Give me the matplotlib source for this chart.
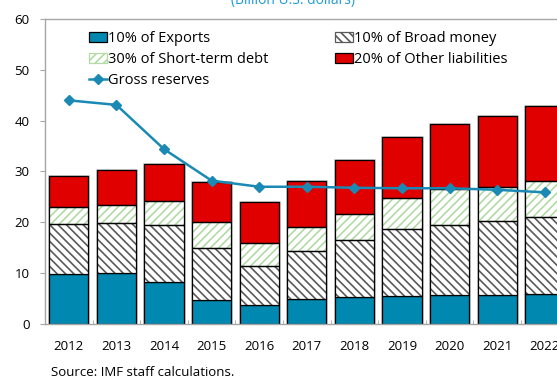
import numpy as np
import matplotlib
matplotlib.use("Agg")
import matplotlib.pyplot as plt
from matplotlib.patches import Patch
from matplotlib.lines import Line2D

plt.rcParams['font.family'] = ['Open Sans', 'DejaVu Sans']
plt.rcParams['font.size'] = 9

years = ["2012", "2013", "2014", "2015", "2016", "2017",
         "2018", "2019", "2020", "2021", "2022"]
exports = [9.8, 10.0, 8.3, 4.7, 3.7, 5.0, 5.4, 5.6, 5.7, 5.8, 6.0]
broad_money = [9.8, 9.8, 11.1, 10.3, 7.8, 9.3, 11.1, 13.1, 13.7, 14.4, 15.1]
short_term = [3.5, 3.7, 4.7, 5.0, 4.4, 4.7, 5.1, 6.1, 7.1, 6.7, 7.1]
other_liab = [6.0, 6.7, 7.3, 7.9, 8.1, 9.1, 10.6, 12.0, 12.8, 14.0, 14.6]
reserves = [44.0, 43.1, 34.4, 28.2, 27.0, 27.0, 26.8, 26.7, 26.7, 26.4, 25.9]

c_exp = '#0088B0'
c_red = '#E00000'
c_line = '#1A8AB5'
c_gray_hatch = '#5A5A5A'
c_green_hatch = '#B2DAA4'
c_spine = '#A6A6A6'

fig = plt.figure(figsize=(5.57, 3.85), dpi=100)
ax = fig.add_axes([45 / 557, 61 / 385, 523.6 / 557, 305 / 385])

x = np.arange(len(years))
w = 0.82
plt.rcParams['hatch.linewidth'] = 1.2

b0 = np.zeros(len(years))
b1 = b0 + np.array(exports)
b2 = b1 + np.array(broad_money)
b3 = b2 + np.array(short_term)
total = b3 + np.array(other_liab)

# soft grey halo around each stack
ax.bar(x, total, w, fill=False, edgecolor='#C8C8C8', linewidth=2.0, zorder=1.9)

ax.bar(x, exports, w, bottom=b0, color=c_exp, edgecolor='black', linewidth=0.9, zorder=2)
# hatched segments: hatch colour comes from edgecolor, outline drawn on top
ax.bar(x, broad_money, w, bottom=b1, color='white', edgecolor=c_gray_hatch,
       hatch='\\\\\\\\', linewidth=0, zorder=2)
ax.bar(x, broad_money, w, bottom=b1, fill=False, edgecolor='black', linewidth=0.9, zorder=3)
ax.bar(x, short_term, w, bottom=b2, color='white', edgecolor=c_green_hatch,
       hatch='////', linewidth=0, zorder=2)
ax.bar(x, short_term, w, bottom=b2, fill=False, edgecolor='black', linewidth=0.9, zorder=3)
ax.bar(x, other_liab, w, bottom=b3, color=c_red, edgecolor='black', linewidth=0.9, zorder=2)

ax.plot(x, reserves, color=c_line, lw=1.8, marker='D', markersize=5, zorder=4)

ax.set_xlim(-0.5, len(years) - 0.5)
ax.set_ylim(0, 60)
ax.set_yticks(range(0, 61, 10))
ax.set_xticks(x)
ax.set_xticklabels(years, fontsize=9.5)
ax.set_yticklabels([str(v) for v in range(0, 61, 10)], fontsize=9.5)
ax.set_xticks(np.arange(-0.5, len(years), 1), minor=True)
ax.tick_params(axis='x', which='major', length=0, pad=11.5)
ax.tick_params(axis='x', which='minor', direction='in', length=3, color=c_spine)
ax.tick_params(axis='y', length=3.6, color=c_spine, pad=7.5)
for s in ax.spines.values():
    s.set_color(c_spine)
    s.set_linewidth(1.0)

handles = [
    Patch(facecolor=c_exp, edgecolor='black', linewidth=0.9),
    Patch(facecolor='white', edgecolor=c_green_hatch, hatch='////', linewidth=0.9),
    Line2D([], [], color=c_line, lw=1.8, marker='D', markersize=5),
    Patch(facecolor='white', edgecolor=c_gray_hatch, hatch='\\\\\\\\', linewidth=0.9),
    Patch(facecolor=c_red, edgecolor='black', linewidth=0.9),
]
labels = ["10% of Exports", "30% of Short-term debt", "Gross reserves",
          "10% of Broad money", "20% of Other liabilities"]
ax.legend(handles, labels, ncol=2, loc='upper left',
          bbox_to_anchor=(44 / 523.6, 1 - 12 / 305), borderaxespad=0,
          frameon=False, handlelength=1.2, handleheight=0.7,
          handletextpad=0.1, columnspacing=4.6, labelspacing=0.4,
          borderpad=0, fontsize=10.5)

fig.text(293 / 557, 1 - 4 / 385, "(Billion U.S. dollars)", color='#1E9BD7',
         ha='center', va='baseline', fontsize=10)
fig.text(51 / 557, 1 - 372 / 385, "Source: IMF staff calculations.",
         ha='left', va='center', fontsize=9.5)

fig.savefig("out.png", dpi=100)
